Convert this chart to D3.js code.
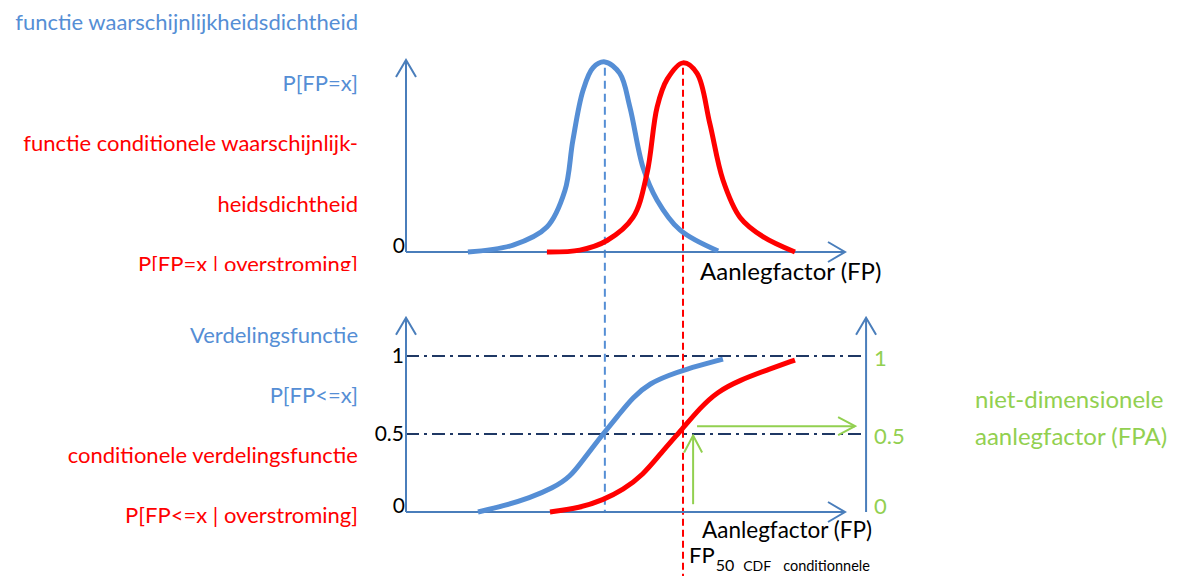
<!DOCTYPE html>
<meta charset="utf-8">
<style>
  body { margin: 0; background: #fff; }
  text { font-family: Lato, "Open Sans", sans-serif; }
</style>
<body>
  <svg id="chart" width="1177" height="576"></svg>
  <script src="https://d3js.org/d3.v7.min.js"></script>
  <script type="text/javascript">
    // density curves (FP, relative density)
    var pdfBaseFP  = [1.41, 2.44, 3.21, 3.62, 3.80, 4.03, 4.26, 4.53, 4.87, 5.10, 5.40, 5.72, 6.24, 7.11];
    var pdfBaseVal = [0, 0.036, 0.13, 0.32, 0.58, 0.84, 0.96, 0.99, 0.93, 0.755, 0.44, 0.27, 0.115, 0.005];
    var pdfCondFP  = [3.21, 3.96, 4.58, 5.17, 5.49, 5.72, 5.95, 6.31, 6.63, 6.92, 7.22, 7.61, 8.13, 8.86];
    var pdfCondVal = [0, 0.01, 0.06, 0.18, 0.41, 0.755, 0.90, 0.985, 0.93, 0.67, 0.375, 0.18, 0.08, 0];

    // distribution curves (FP, cumulative probability)
    var cdfBaseFP  = [1.64, 2.21, 2.82, 3.35, 3.74, 4.03, 4.26, 4.49, 4.81, 5.17, 5.56, 6.01, 6.31, 7.22];
    var cdfBaseVal = [0, 0.038, 0.09, 0.154, 0.224, 0.333, 0.417, 0.5, 0.61, 0.737, 0.827, 0.878, 0.91, 0.98];
    var cdfCondFP  = [3.28, 3.96, 4.49, 4.94, 5.40, 5.79, 6.31, 6.70, 7.08, 7.61, 8.22, 8.86];
    var cdfCondVal = [0, 0.026, 0.077, 0.141, 0.237, 0.372, 0.538, 0.667, 0.769, 0.846, 0.91, 0.974];

    var medianBase = 4.53, medianCond = 6.31;
    var refLevels = [0.5, 1];
    var fpaTicks = [0, 0.5, 1];
    var fpaArrowUp = {fp: 6.54, from: 0.05, to: 0.49};
    var fpaArrowRight = {level: 0.55, from: 6.63, to: 10.23};

    var pdfLabels = ["functie waarschijnlijkheidsdichtheid", "P[FP=x]",
                     "functie conditionele waarschijnlijk-", "heidsdichtheid", "P[FP=x | overstroming]"];
    var pdfLabelSeries = ["base", "base", "cond", "cond", "cond"];
    var cdfLabels = ["Verdelingsfunctie", "P[FP<=x]", "conditionele verdelingsfunctie", "P[FP<=x | overstroming]"];
    var cdfLabelSeries = ["base", "base", "cond", "cond"];
    var fpaLabels = ["niet-dimensionele", "aanlegfactor (FPA)"];

    var colors = {base: "#558ED5", cond: "#FF0000", axis: "#4A7EBB", ref: "#1F3864", fpa: "#92D050"};

    var svg = d3.select("#chart");

    var x = d3.scaleLinear().domain([0, 10]).range([406, 845]);
    var yPdf = d3.scaleLinear().domain([0, 1]).range([252, 60]);
    var yCdf = d3.scaleLinear().domain([0, 1]).range([512, 356]);
    var xRight = 10.48;

    var defs = svg.append("defs");
    function marker(id, color, len, half) {
      defs.append("marker")
        .attr("id", id)
        .attr("markerUnits", "userSpaceOnUse")
        .attr("viewBox", (-len - 2) + " " + (-half - 2) + " " + (len + 4) + " " + (2 * half + 4))
        .attr("markerWidth", len + 4)
        .attr("markerHeight", 2 * half + 4)
        .attr("refX", 0).attr("refY", 0)
        .attr("orient", "auto")
        .append("path")
        .attr("d", "M" + (-len) + "," + (-half) + "L0,0L" + (-len) + "," + half)
        .attr("fill", "none")
        .attr("stroke", color)
        .attr("stroke-width", 2);
    }
    marker("arrowAxis", colors.axis, 17, 10);
    marker("arrowFpa", colors.fpa, 17, 9);

    defs.append("clipPath").attr("id", "clipTop")
      .append("rect").attr("x", 0).attr("y", 0).attr("width", 380).attr("height", 271);

    // left labels
    var topText = svg.append("g").attr("clip-path", "url(#clipTop)");
    topText.selectAll("text")
      .data(pdfLabels)
      .enter().append("text")
      .attr("x", 358)
      .attr("y", function (d, i) { return 30 + i * 60.5; })
      .attr("text-anchor", "end")
      .attr("font-size", 22)
      .attr("fill", function (d, i) { return colors[pdfLabelSeries[i]]; })
      .text(function (d) { return d; });

    svg.append("g").selectAll("text")
      .data(cdfLabels)
      .enter().append("text")
      .attr("x", 358)
      .attr("y", function (d, i) { return 343 + i * 60; })
      .attr("text-anchor", "end")
      .attr("font-size", 22)
      .attr("fill", function (d, i) { return colors[cdfLabelSeries[i]]; })
      .text(function (d) { return d; });

    // reference lines
    svg.append("g").selectAll("line")
      .data(refLevels)
      .enter().append("line")
      .attr("x1", x(0)).attr("x2", x(xRight))
      .attr("y1", function (d) { return yCdf(d); })
      .attr("y2", function (d) { return yCdf(d); })
      .attr("stroke", colors.ref)
      .attr("stroke-width", 2)
      .attr("stroke-dasharray", "13,5,3,5");

    svg.append("line")
      .attr("x1", x(medianBase)).attr("x2", x(medianBase))
      .attr("y1", yPdf(0.96)).attr("y2", yCdf(0))
      .attr("stroke", colors.base).attr("stroke-width", 2)
      .attr("stroke-dasharray", "8,5");
    svg.append("line")
      .attr("x1", x(medianCond)).attr("x2", x(medianCond))
      .attr("y1", yPdf(0.96)).attr("y2", 576)
      .attr("stroke", colors.cond).attr("stroke-width", 2)
      .attr("stroke-dasharray", "7,4");

    // axes
    function axisLine(x1, y1, x2, y2) {
      svg.append("line")
        .attr("x1", x1).attr("y1", y1).attr("x2", x2).attr("y2", y2)
        .attr("stroke", colors.axis).attr("stroke-width", 2)
        .attr("marker-end", "url(#arrowAxis)");
    }
    axisLine(x(0), yPdf(0), x(0), yPdf(1));
    axisLine(x(0), yPdf(0), x(10), yPdf(0));
    axisLine(x(0), yCdf(0), x(0), yCdf(1.245));
    axisLine(x(0), yCdf(0), x(10), yCdf(0));
    axisLine(x(xRight), yCdf(0), x(xRight), yCdf(1.245));

    var leftAxis = svg.append("g")
      .attr("transform", "translate(" + x(0) + ",0)")
      .call(d3.axisLeft(yCdf).tickValues(refLevels).tickSize(0).tickPadding(2).tickFormat(d3.format("")));
    leftAxis.select(".domain").remove();
    leftAxis.selectAll("text").attr("font-size", 21).attr("font-family", null).attr("fill", "#000");

    svg.selectAll(".zero")
      .data([yPdf(0), yCdf(0)])
      .enter().append("text")
      .attr("class", "zero")
      .attr("x", x(0) - 1).attr("y", function (d) { return d + 1; })
      .attr("text-anchor", "end")
      .attr("font-size", 21)
      .text("0");

    var rightAxis = svg.append("g")
      .attr("transform", "translate(" + x(xRight) + ",0)")
      .call(d3.axisRight(yCdf).tickValues(fpaTicks).tickSize(0).tickPadding(8).tickFormat(d3.format("")));
    rightAxis.select(".domain").remove();
    rightAxis.selectAll("text").attr("font-size", 22).attr("font-family", null)
      .attr("fill", colors.fpa)
      .attr("dy", function (d) { return d === 0 ? "0.05em" : "0.45em"; });

    // curves
    var line = d3.line()
      .x(function (d) { return x(d[0]); })
      .y(function (d) { return d[2](d[1]); });

    function curve(xs, vs, yScale, color, shape) {
      svg.append("path")
        .datum(xs.map(function (v, i) { return [v, vs[i], yScale]; }))
        .attr("d", line.curve(shape))
        .attr("fill", "none")
        .attr("stroke", color)
        .attr("stroke-width", 5);
    }
    curve(pdfBaseFP, pdfBaseVal, yPdf, colors.base, d3.curveCatmullRom.alpha(0.5));
    curve(pdfCondFP, pdfCondVal, yPdf, colors.cond, d3.curveCatmullRom.alpha(0.5));
    curve(cdfBaseFP, cdfBaseVal, yCdf, colors.base, d3.curveBasis);
    curve(cdfCondFP, cdfCondVal, yCdf, colors.cond, d3.curveBasis);

    // FPA arrows
    svg.append("line")
      .attr("x1", x(fpaArrowUp.fp)).attr("x2", x(fpaArrowUp.fp))
      .attr("y1", yCdf(fpaArrowUp.from)).attr("y2", yCdf(fpaArrowUp.to))
      .attr("stroke", colors.fpa).attr("stroke-width", 2)
      .attr("marker-end", "url(#arrowFpa)");
    svg.append("line")
      .attr("x1", x(fpaArrowRight.from)).attr("x2", x(fpaArrowRight.to))
      .attr("y1", yCdf(fpaArrowRight.level)).attr("y2", yCdf(fpaArrowRight.level))
      .attr("stroke", colors.fpa).attr("stroke-width", 2)
      .attr("marker-end", "url(#arrowFpa)");

    // axis titles
    svg.append("text").attr("x", 700).attr("y", 280).attr("font-size", 24).text("Aanlegfactor (FP)");
    svg.append("text").attr("x", 702).attr("y", 538).attr("font-size", 22.5).text("Aanlegfactor (FP)");

    var fp50 = svg.append("text").attr("x", 689).attr("y", 563).attr("font-size", 22);
    fp50.append("tspan").text("FP");
    fp50.append("tspan").attr("font-size", 16).attr("dy", 8).attr("dx", 1).text("50");
    fp50.append("tspan").attr("font-size", 14).attr("dx", 9).text("CDF");
    fp50.append("tspan").attr("font-size", 14.5).attr("dx", 12).text("conditionnele");

    svg.append("g").selectAll("text")
      .data(fpaLabels)
      .enter().append("text")
      .attr("x", 975)
      .attr("y", function (d, i) { return 408 + i * 37; })
      .attr("font-size", 24)
      .attr("fill", colors.fpa)
      .text(function (d) { return d; });
  </script>
</body>
